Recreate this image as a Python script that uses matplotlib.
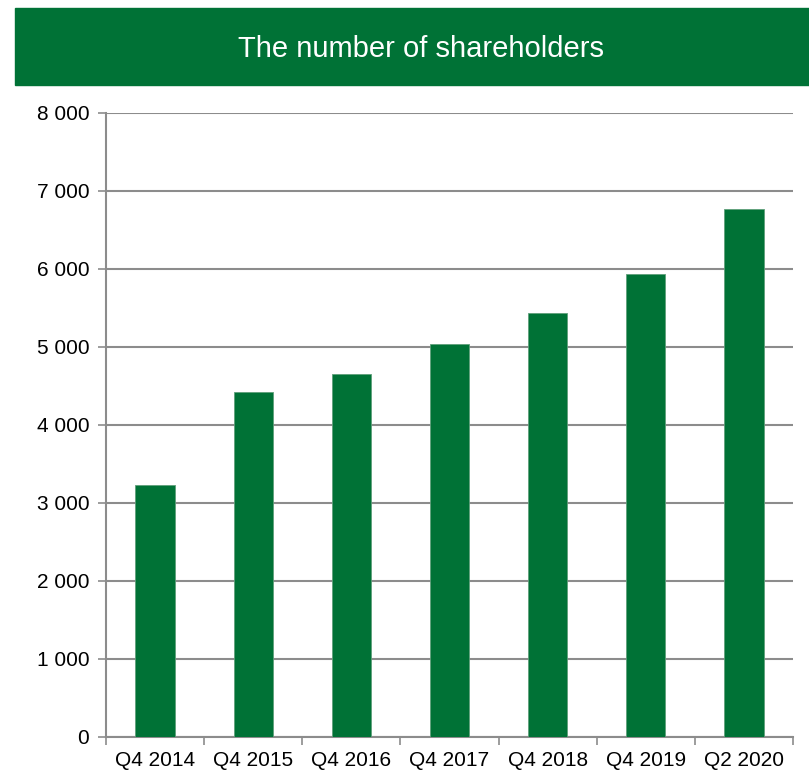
import numpy as np
import matplotlib
matplotlib.use('Agg')
from matplotlib import pyplot as plt
from matplotlib.patches import Rectangle

# data
periods = ['Q4 2014', 'Q4 2015', 'Q4 2016', 'Q4 2017', 'Q4 2018', 'Q4 2019', 'Q2 2020']
shareholders = [3235, 4425, 4660, 5040, 5440, 5935, 6765]
yticks = [0, 1000, 2000, 3000, 4000, 5000, 6000, 7000, 8000]

green = '#007236'
grey = '#8c8c8c'

plt.rcParams['font.family'] = ['Liberation Sans', 'DejaVu Sans']

fig = plt.figure(figsize=(8.09, 7.72), dpi=100)

# title banner
fig.patches.append(Rectangle((15/809, 1 - 85/772), 1 - 15/809, 77/772,
                             transform=fig.transFigure, color=green, zorder=0))
fig.text(0.52, 1 - 49/772, 'The number of shareholders', color='white',
         fontsize=21, ha='center', va='center')

ax = fig.add_axes([106/809, 35/772, 687/809, 624/772])
x = np.arange(len(periods))
ax.bar(x, shareholders, width=0.4, color=green, edgecolor='#5f9f7a', linewidth=0.6, zorder=3)

ax.set_xlim(-0.5, len(periods) - 0.5)
ax.set_ylim(0, 8000)
ax.set_yticks(yticks)
ax.set_yticklabels([f'{v:,}'.replace(',', ' ') for v in yticks])
ax.set_xticks(x)
ax.set_xticklabels(periods)
ax.set_xticks(np.arange(len(periods) + 1) - 0.5, minor=True)
ax.tick_params(axis='x', which='major', length=0, pad=10, labelsize=15)
ax.tick_params(axis='x', which='minor', length=6, color=grey, width=1.2)
ax.tick_params(axis='y', length=6, color=grey, width=1.2, labelsize=15, pad=6)

ax.grid(axis='y', color=grey, linewidth=1.5, zorder=0)
ax.set_axisbelow(True)
for s in ['top', 'right']:
    ax.spines[s].set_visible(False)
for s in ['left', 'bottom']:
    ax.spines[s].set_color(grey)
    ax.spines[s].set_linewidth(1.5)

fig.savefig('out.png', dpi=100)
